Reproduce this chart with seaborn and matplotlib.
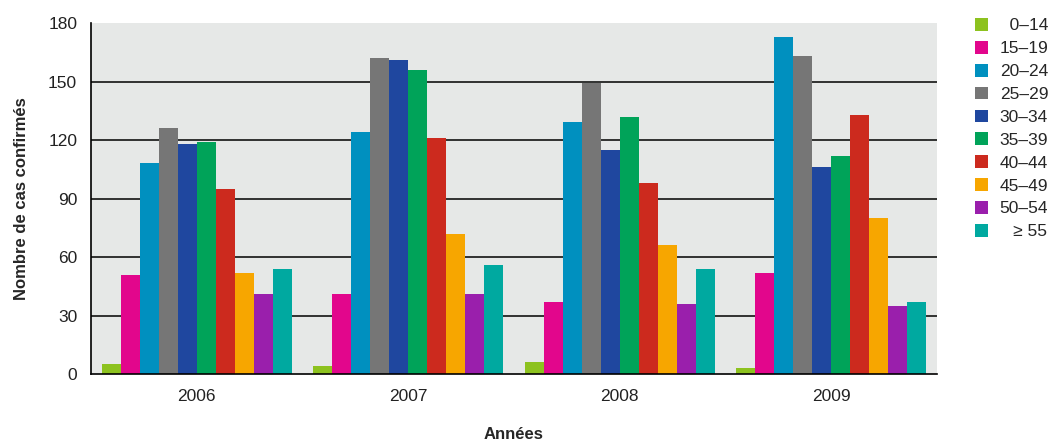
import pandas as pd
import seaborn as sns
import matplotlib.pyplot as plt
from matplotlib.ticker import FixedLocator

# Data
years = ['2006', '2007', '2008', '2009']
age_groups = ['0–14', '15–19', '20–24', '25–29', '30–34',
              '35–39', '40–44', '45–49', '50–54', '≥ 55']
cases_2006 = [5, 51, 108, 126, 118, 119, 95, 52, 41, 54]
cases_2007 = [4, 41, 124, 162, 161, 156, 121, 72, 41, 56]
cases_2008 = [6, 37, 129, 149, 115, 132, 98, 66, 36, 54]
cases_2009 = [3, 52, 173, 163, 106, 112, 133, 80, 35, 37]
colors = ['#8dc21f', '#e2068c', '#0090bf', '#767676', '#1f479f',
          '#00a359', '#cc2a1e', '#f7a600', '#9a1fac', '#00a9a0']

rows = []
for year, vals in zip(years, [cases_2006, cases_2007, cases_2008, cases_2009]):
    for age, v in zip(age_groups, vals):
        rows.append({'Années': year, 'Âge': age, 'Cas': v})
df = pd.DataFrame(rows)

sns.set_style('white')
plt.rcParams['font.family'] = ['Liberation Sans', 'DejaVu Sans']

fig = plt.figure(figsize=(10.49, 4.4), dpi=100)
ax = fig.add_axes([0.0868, 0.15, 0.8064, 0.7977])
ax.set_facecolor('#e6e8e7')

sns.barplot(data=df, x='Années', y='Cas', hue='Âge', hue_order=age_groups,
            palette=colors, width=0.9, saturation=1, ax=ax,
            edgecolor='none', linewidth=0)

ax.set_ylim(0, 180)
ax.set_xlim(-0.5, 3.5)
ax.set_yticks(range(0, 181, 30))
ax.set_axisbelow(True)
ax.yaxis.grid(True, color='black', linewidth=1.1)
ax.get_ygridlines()[-1].set_visible(False)
ax.get_ygridlines()[0].set_visible(False)

# group separators
ax.xaxis.set_minor_locator(FixedLocator([0.5, 1.5, 2.5, 3.5]))
ax.tick_params(axis='x', which='minor', direction='in', length=8,
               width=1.2, color='#555555')
ax.tick_params(axis='x', which='major', length=0, pad=11, labelsize=12.5,
               labelcolor='#222222')
ax.tick_params(axis='y', direction='in', length=9, width=1.5,
               color='#777777', pad=10, labelsize=12.5, labelcolor='#222222')

for side in ['top', 'right']:
    ax.spines[side].set_visible(False)
for side in ['left', 'bottom']:
    ax.spines[side].set_color('black')
    ax.spines[side].set_linewidth(1.2)

ax.set_xlabel('Années', fontsize=12, fontweight='bold', labelpad=16)
ax.set_ylabel('Nombre de cas confirmés', fontsize=12, fontweight='bold',
              labelpad=14)

# legend on the right; figure spaces pad the short labels so they end flush right
handles, _ = ax.get_legend_handles_labels()
shown = ['\u2007' + age_groups[0]] + age_groups[1:-1] + ['\u2007\u2009' + age_groups[-1]]
ax.legend(handles, shown, loc='upper left', bbox_to_anchor=(0.929, 0.959),
          bbox_transform=fig.transFigure, frameon=False, fontsize=12.5,
          handlelength=0.75, handleheight=0.75, handletextpad=0.7,
          labelspacing=0.43, borderaxespad=0, borderpad=0)

plt.savefig('out.png', dpi=100)
